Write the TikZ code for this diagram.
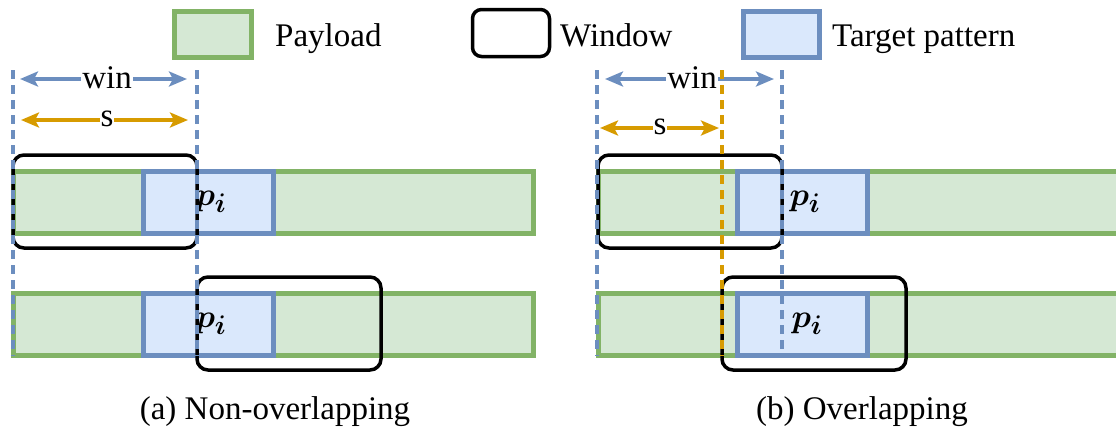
\documentclass[tikz,border=0pt]{standalone}
\usepackage{fontspec}
\setmainfont{Liberation Serif}
\usepackage{bm}
\usetikzlibrary{arrows.meta}
\definecolor{payfill}{HTML}{D5E8D4}
\definecolor{paydraw}{HTML}{82B366}
\definecolor{tgtfill}{HTML}{DAE8FC}
\definecolor{tgtdraw}{HTML}{6C8EBF}
\definecolor{strideor}{HTML}{D79B00}
\newcommand{\patlabel}{\scalebox{1.3}{$\bm{p_i}$}}
\begin{document}
\begin{tikzpicture}[x=1pt,y=-1pt,
  every node/.style={inner sep=0pt, font=\fontsize{33}{38}\selectfont},
  payload/.style={draw=paydraw, fill=payfill, line width=5pt, minimum height=62pt},
  target/.style={draw=tgtdraw, fill=tgtfill, line width=5pt, minimum width=130pt, minimum height=62pt},
  winbox/.style={draw=black, line width=3.5pt, rounded corners=11pt, minimum width=184pt, minimum height=93pt},
  legbox/.style={line width=5pt, minimum width=78pt, minimum height=47pt},
  guide/.style={line width=3.3pt, dash pattern=on 9pt off 6pt},
  blueguide/.style={guide, draw=tgtdraw},
  orguide/.style={guide, draw=strideor},
  span/.style={line width=3.3pt, {Stealth[length=18pt,width=15pt,inset=4pt]}-{Stealth[length=18pt,width=15pt,inset=4pt]}},
  spanlabel/.style={fill=white, inner xsep=1pt, inner ysep=0pt},
  plabel/.style={font=\fontsize{24.88}{30}\selectfont},
]
\useasboundingbox (0,0) rectangle (1116,434);
\clip (0,0) rectangle (1116,434);

% legend
\node[legbox, draw=paydraw, fill=payfill, minimum width=77pt, minimum height=46pt] (lgpay) at (212.5,34) {};
\node[anchor=base west] (lgpaytxt) at (275,46) {Payload};
\node[legbox, draw=black, line width=3.5pt, rounded corners=9pt, minimum width=77pt, minimum height=47pt] (lgwin) at (511,33) {};
\node[anchor=base west] (lgwintxt) at (560,46) {Window};
\node[legbox, draw=tgtdraw, fill=tgtfill, minimum width=76pt, minimum height=46pt] (lgtgt) at (781,34) {};
\node[anchor=base west] (lgtgttxt) at (832,46) {Target pattern};

% (a) non-overlapping windows
\node[payload, minimum width=520pt] (barA1) at (273,202) {};
\node[target] (tgtA1) at (208,202) {};
\node[winbox] (winA1) at (105,201.5) {};
\node[plabel] (pA1) at (211,202) {\patlabel};

\node[payload, minimum width=520pt] (barA2) at (273,324) {};
\node[target] (tgtA2) at (208,324) {};
\node[winbox] (winA2) at (289,323.5) {};
\node[plabel] (pA2) at (211,324) {\patlabel};

\coordinate (gA0t) at (13,70);  \coordinate (gA0b) at (13,356);
\coordinate (gA1t) at (197,70); \coordinate (gA1b) at (197,356);
\draw[blueguide] (gA0t) -- (gA0b);
\draw[blueguide] (gA1t) -- (gA1b);

\coordinate (wA0) at (20,79);  \coordinate (wA1) at (187,79);
\draw[span, draw=tgtdraw, fill=tgtdraw] (wA0) -- (wA1);
\node[spanlabel] (wAlab) at (107,78) {win};
\coordinate (sA0) at (21,120); \coordinate (sA1) at (188,120);
\draw[span, draw=strideor, fill=strideor] (sA0) -- (sA1);
\node[spanlabel] (sAlab) at (107,119) {s};

\node (capA) at (275,412) {(a) Non-overlapping};

% (b) overlapping windows
\node[payload, minimum width=540pt] (barB1) at (868,202) {};
\node[target] (tgtB1) at (802,202) {};
\node[winbox] (winB1) at (690,201.5) {};
\node[plabel] (pB1) at (805,202) {\patlabel};

\node[payload, minimum width=540pt] (barB2) at (868,324) {};
\node[target] (tgtB2) at (802,324) {};
\node[winbox] (winB2) at (814,323.5) {};
\node[plabel] (pB2) at (807,324) {\patlabel};

\coordinate (wB0) at (605,79);  \coordinate (wB1) at (774,79);
\draw[span, draw=tgtdraw, fill=tgtdraw] (wB0) -- (wB1);
\node[spanlabel] (wBlab) at (692,78) {win};
\coordinate (sB0) at (600,128); \coordinate (sB1) at (719,128);
\draw[span, draw=strideor, fill=strideor] (sB0) -- (sB1);
\node[spanlabel] (sBlab) at (660,127) {s};

\coordinate (gB0t) at (597,70); \coordinate (gB0b) at (597,356);
\coordinate (gB1t) at (782,70); \coordinate (gB1b) at (782,356);
\coordinate (gBst) at (722,70); \coordinate (gBsb) at (722,356);
\draw[blueguide] (gB0t) -- (gB0b);
\draw[blueguide] (gB1t) -- (gB1b);
\draw[orguide] (gBst) -- (gBsb);

\node (capB) at (862,412) {(b) Overlapping};
\end{tikzpicture}
\end{document}
